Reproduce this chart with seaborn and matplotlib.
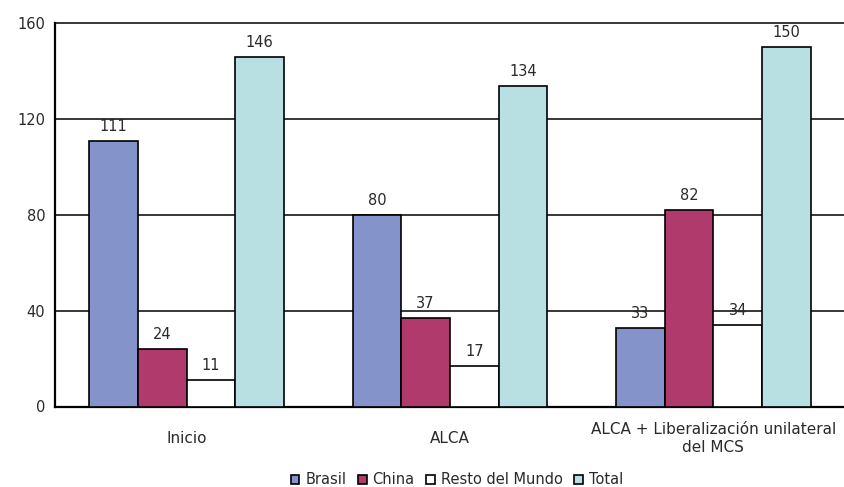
import pandas as pd
import seaborn as sns
import matplotlib.pyplot as plt
from matplotlib.patches import Patch

escenarios = ['Inicio', 'ALCA', 'ALCA + Liberalización unilateral\ndel MCS']
series = ['Brasil', 'China', 'Resto del Mundo', 'Total']
brasil = [111, 80, 33]
china = [24, 37, 82]
resto = [11, 17, 34]
total = [146, 134, 150]
colores = ['#8593CB', '#B03A6B', '#FFFFFF', '#B8E0E2']

rows = []
for i, esc in enumerate(escenarios):
    for s, vals in zip(series, [brasil, china, resto, total]):
        rows.append({'escenario': esc, 'serie': s, 'valor': vals[i]})
df = pd.DataFrame(rows)

sns.set_style('white')
plt.rcParams['font.family'] = ['DejaVu Sans']
txt = '#2a2a2a'

fig = plt.figure(figsize=(8.45, 4.87), dpi=100)
ax = fig.add_axes([55 / 845, 1 - 406.5 / 487, 1 - 55 / 845, (406.5 - 23.5) / 487])

sns.barplot(data=df, x='escenario', y='valor', hue='serie', order=escenarios,
            hue_order=series, palette=colores, width=0.74, saturation=1,
            edgecolor='black', linewidth=1.2, ax=ax, legend=False, zorder=3)

for cont in ax.containers:
    ax.bar_label(cont, fmt='%d', padding=5, fontsize=10.5, color=txt)

ax.set_ylim(0, 160)
ax.set_xlim(-0.5, 2.5)
ax.set_yticks([0, 40, 80, 120, 160])
ax.yaxis.grid(True, color='black', linewidth=1.1, zorder=0)
ax.axhline(160, color='black', linewidth=1.1, clip_on=False, zorder=0)
ax.set_axisbelow(True)
ax.set_xlabel('')
ax.set_ylabel('')

# category boundaries as ticks, labels at centers
ax.set_xticks([0.5, 1.5])
ax.set_xticklabels([])
ax.set_xticks([0, 1, 2], minor=True)
ax.set_xticklabels(escenarios, minor=True, fontsize=11, color=txt)
for lbl in ax.get_xticklabels(minor=True):
    lbl.set_verticalalignment('center')
ax.tick_params(axis='x', which='minor', length=0, pad=23)
ax.tick_params(axis='x', which='major', length=5, width=1, color='black', direction='out')
ax.tick_params(axis='y', length=5, width=1, color='black', direction='out',
               labelsize=10.5, labelcolor=txt, pad=2)

for sp in ['top', 'right']:
    ax.spines[sp].set_visible(False)
ax.spines['left'].set_color('black')
ax.spines['left'].set_linewidth(1.6)
ax.spines['bottom'].set_color('black')
ax.spines['bottom'].set_linewidth(1.6)

handles = [Patch(facecolor=c, edgecolor='black', linewidth=1.2, label=s)
           for c, s in zip(colores, series)]
leg = fig.legend(handles=handles, loc='center', bbox_to_anchor=(457 / 845, 1 - 480 / 487),
                 ncol=4, frameon=False, fontsize=10.5, handlelength=0.6, handleheight=0.6,
                 handletextpad=0.4, columnspacing=0.8, borderpad=0)
for t in leg.get_texts():
    t.set_color(txt)

fig.savefig('out.png', dpi=100)
